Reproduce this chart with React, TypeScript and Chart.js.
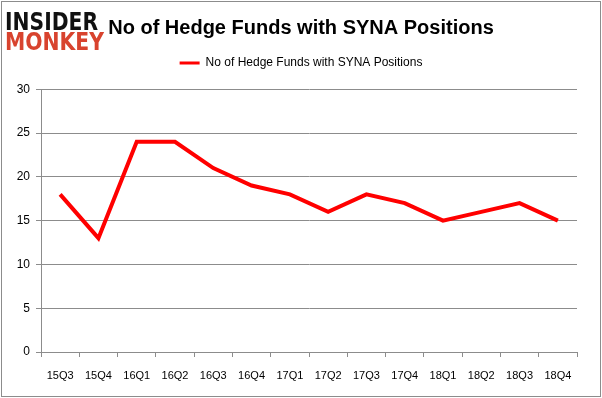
import React, { useEffect, useRef } from "react";
import { Chart, registerables } from "chart.js";

Chart.register(...registerables);

const categories = ["15Q3", "15Q4", "16Q1", "16Q2", "16Q3", "16Q4", "17Q1", "17Q2", "17Q3", "17Q4", "18Q1", "18Q2", "18Q3", "18Q4"];
const hedgeFunds = [18, 13, 24, 24, 21, 19, 18, 16, 18, 17, 15, 16, 17, 15];
const seriesName = "No of Hedge Funds with SYNA Positions";
const titleText = "No of Hedge Funds with SYNA Positions";

const decorPlugin = {
  id: "decor",
  beforeDraw(chart: any) {
    const ctx = chart.ctx;
    ctx.save();
    ctx.fillStyle = "#ffffff";
    ctx.fillRect(0, 0, chart.width, chart.height);
    ctx.restore();
  },
  afterDraw(chart: any) {
    const ctx = chart.ctx;
    ctx.save();
    ctx.strokeStyle = "#8c8c8c";
    ctx.lineWidth = 1;
    ctx.strokeRect(1.5, 1.5, chart.width - 3, chart.height - 3);
    // logo
    ctx.textBaseline = "alphabetic";
    ctx.textAlign = "left";
    ctx.font = "bold 25px 'DejaVu Sans'";
    ctx.fillStyle = "#111111";
    let w = ctx.measureText("INSIDER").width;
    ctx.save();
    ctx.translate(5, 30);
    ctx.scale(93 / w, 1);
    ctx.fillText("INSIDER", 0, 0);
    ctx.restore();
    ctx.fillStyle = "#d8432e";
    w = ctx.measureText("MONKEY").width;
    ctx.save();
    ctx.translate(5, 50);
    ctx.scale(99 / w, 1);
    ctx.fillText("MONKEY", 0, 0);
    ctx.restore();
    ctx.restore();
  },
};

export default function App() {
  const ref = useRef<HTMLCanvasElement>(null);
  useEffect(() => {
    document.body.style.margin = "0";
    const chart = new Chart(ref.current!, {
      type: "line",
      data: {
        labels: categories,
        datasets: [
          {
            label: seriesName,
            data: hedgeFunds,
            borderColor: "#ff0000",
            backgroundColor: "#ff0000",
            borderWidth: 4,
            pointRadius: 0,
            tension: 0,
          },
        ],
      },
      options: {
        animation: false,
        responsive: false,
        layout: { padding: { left: 0, right: 0, top: 0, bottom: 0 } },
        plugins: {
          title: {
            display: true,
            text: titleText,
            color: "#000000",
            font: { family: "'Liberation Sans'", size: 20, weight: "bold" },
            padding: { top: 16, bottom: 0 },
          },
          subtitle: {
            display: true,
            text: " ",
            weight: 900,
            font: { size: 1 },
            padding: { top: 0, bottom: 9 },
          },
          legend: {
            display: true,
            labels: {
              color: "#000000",
              font: { family: "'Liberation Sans'", size: 12 },
              boxWidth: 20,
              boxHeight: 3,
              padding: 17,
              generateLabels: () => [
                { text: seriesName, fillStyle: "#ff0000", strokeStyle: "#ff0000", lineWidth: 0, hidden: false, datasetIndex: 0 },
              ],
            },
          },
          tooltip: { enabled: false },
        },
        scales: {
          x: {
            offset: true,
            grid: { display: true, drawOnChartArea: false, color: "#8c8c8c", tickLength: 5, offset: true },
            border: { color: "#8c8c8c" },
            ticks: { color: "#000000", font: { family: "'Liberation Sans'", size: 11 }, maxRotation: 0, autoSkip: false, padding: 12 },
            afterFit: (s: any) => { s.height = 46; },
          },
          y: {
            min: 0,
            max: 30,
            ticks: { stepSize: 5, color: "#000000", font: { family: "'Liberation Sans'", size: 12 }, padding: 6 },
            grid: { color: "#8c8c8c", tickLength: 5 },
            border: { color: "#8c8c8c" },
            afterFit: (s: any) => { s.width = 41; },
          },
          yRight: {
            position: "right",
            display: true,
            min: 0,
            max: 30,
            grid: { display: false, drawTicks: false },
            border: { display: false },
            ticks: { display: false },
            afterFit: (s: any) => { s.width = 25; },
          },
        },
      },
      plugins: [decorPlugin],
    });
    return () => chart.destroy();
  }, []);
  return <canvas ref={ref} width={602} height={398} style={{ display: "block" }} />;
}
